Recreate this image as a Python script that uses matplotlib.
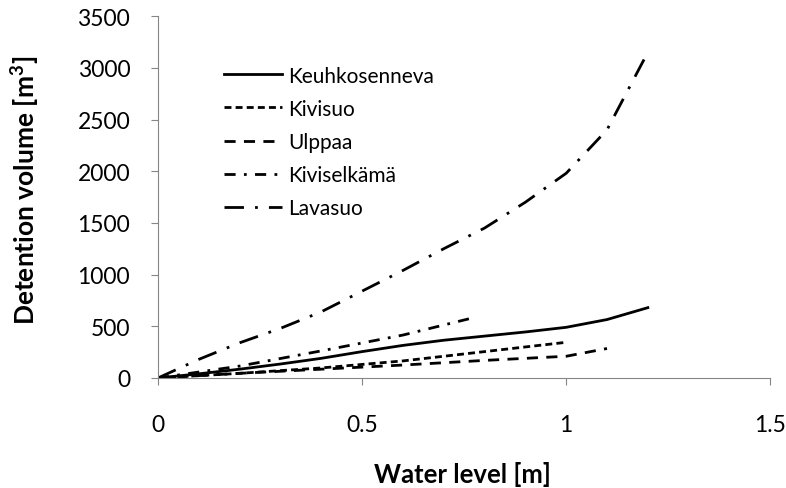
import matplotlib
matplotlib.use("Agg")
import matplotlib.pyplot as plt

plt.rcParams['font.family'] = ['Lato', 'DejaVu Sans']

keuh_x = [0, 0.1, 0.2, 0.3, 0.4, 0.5, 0.6, 0.7, 0.8, 0.9, 1.0, 1.1, 1.2]
keuh_y = [0, 40, 85, 135, 190, 255, 315, 365, 405, 445, 490, 565, 680]
kivi_x = [0, 0.2, 0.4, 0.6, 0.8, 1.0]
kivi_y = [0, 45, 97, 165, 255, 345]
ulp_x = [0, 0.2, 0.4, 0.6, 0.8, 1.0, 1.1]
ulp_y = [0, 45, 85, 125, 170, 210, 285]
kse_x = [0, 0.2, 0.4, 0.6, 0.78]
kse_y = [0, 115, 262, 415, 590]
lava_x = [0, 0.1, 0.2, 0.3, 0.4, 0.5, 0.6, 0.7, 0.8, 0.9, 1.0, 1.1, 1.2]
lava_y = [0, 180, 340, 480, 640, 840, 1040, 1250, 1450, 1700, 1980, 2400, 3150]

fig = plt.figure(figsize=(7.86, 4.89), dpi=100)
ax = fig.add_axes([0.201, 0.225, 0.779, 0.740])

lw = 2
ax.plot(keuh_x, keuh_y, color='black', lw=lw, linestyle='-', label='Keuhkosenneva')
ax.plot(kivi_x, kivi_y, color='black', lw=lw, linestyle=(0, (2.5, 1.5)), label='Kivisuo')
ax.plot(ulp_x, ulp_y, color='black', lw=lw, linestyle=(0, (4, 3)), label='Ulppaa')
ax.plot(kse_x, kse_y, color='black', lw=lw, linestyle=(0, (4, 3, 1, 3)), label='Kiviselkämä')
ax.plot(lava_x, lava_y, color='black', lw=lw, linestyle=(0, (7, 4, 1, 4)), label='Lavasuo')

ax.set_xlim(0, 1.5)
ax.set_ylim(0, 3500)
ax.set_xticks([0, 0.5, 1, 1.5])
ax.set_xticklabels(['0', '0.5', '1', '1.5'])
ax.set_yticks(range(0, 3501, 500))
for s in ['top', 'right']:
    ax.spines[s].set_visible(False)
for s in ['left', 'bottom']:
    ax.spines[s].set_color('#868686')
ax.tick_params(axis='both', colors='#868686', labelcolor='black', labelsize=16.5, length=5,
               direction='out')
ax.tick_params(axis='x', pad=21)
ax.tick_params(axis='y', pad=15)

ax.set_xlabel('Water level [m]', fontsize=18.5, fontweight='bold')
ax.set_ylabel('Detention volume [m$^\\mathregular{3}$]', fontsize=19, fontweight='bold')
ax.xaxis.set_label_coords(0.498, -0.229)
ax.yaxis.set_label_coords(-0.189, 0.522)

leg = ax.legend(loc='upper left', bbox_to_anchor=(0.077, 0.915), frameon=False, fontsize=15,
                handlelength=2.8, handletextpad=0.3, labelspacing=0.63)

fig.savefig('out.png', dpi=100)
